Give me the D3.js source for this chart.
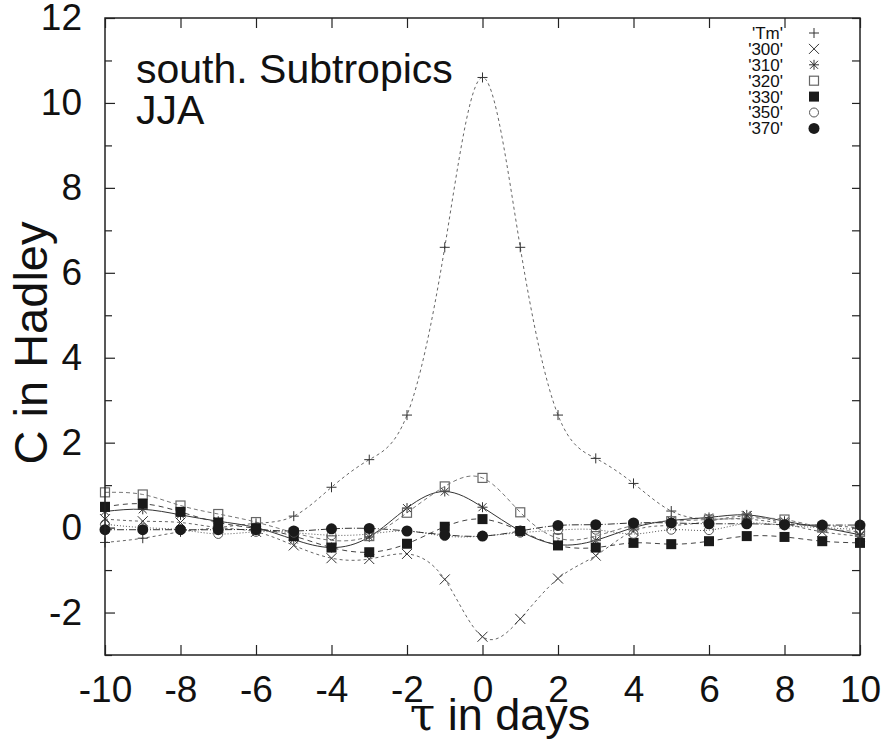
<!DOCTYPE html>
<html lang="en">
<head>
<meta charset="UTF-8">
<title>south. Subtropics JJA</title>
<script src="https://d3js.org/d3.v7.min.js"></script>
<style>
    body { margin: 0; background: #fff; }
    text { font-family: "Liberation Sans", Arial, sans-serif; fill: #111; }
</style>
</head>
<body>
<svg id="chart" width="881" height="740"></svg>
<script>
// lag in days
const tau = [-10, -9, -8, -7, -6, -5, -4, -3, -2, -1, 0, 1, 2, 3, 4, 5, 6, 7, 8, 9, 10];

// correlation values per level
const tm   = [-0.35, -0.25, -0.1, 0.0, 0.1, 0.27, 0.95, 1.6, 2.65, 6.6, 10.6, 6.6, 2.65, 1.63, 1.04, 0.39, 0.2, 0.2, 0.1, 0.05, 0.0];
const l300 = [0.2, 0.15, 0.12, 0.0, -0.1, -0.42, -0.72, -0.74, -0.62, -1.22, -2.57, -2.15, -1.2, -0.66, -0.08, 0.05, 0.15, 0.27, 0.1, -0.1, -0.2];
const l310 = [0.38, 0.43, 0.3, 0.15, 0.0, -0.28, -0.47, -0.22, 0.46, 0.85, 0.48, -0.08, -0.4, -0.3, 0.0, 0.17, 0.24, 0.3, 0.15, 0.0, -0.17];
const l320 = [0.83, 0.78, 0.52, 0.32, 0.13, -0.12, -0.3, -0.2, 0.35, 0.97, 1.17, 0.36, -0.25, -0.2, 0.05, 0.15, 0.19, 0.22, 0.19, 0.0, -0.1];
const l330 = [0.49, 0.56, 0.37, 0.12, -0.02, -0.2, -0.47, -0.58, -0.38, 0.02, 0.2, -0.08, -0.42, -0.47, -0.36, -0.39, -0.32, -0.2, -0.22, -0.32, -0.36];
const l350 = [0.08, 0.0, -0.05, -0.15, -0.1, -0.12, -0.18, -0.15, -0.08, -0.2, -0.2, -0.12, -0.06, -0.05, -0.15, -0.05, -0.06, 0.1, 0.05, 0.0, -0.05];
const l370 = [-0.05, -0.05, -0.05, -0.05, -0.05, -0.08, -0.03, -0.02, -0.08, -0.17, -0.2, -0.08, 0.05, 0.07, 0.11, 0.11, 0.09, 0.09, 0.07, 0.06, 0.06];

const seriesNames = ["'Tm'", "'300'", "'310'", "'320'", "'330'", "'350'", "'370'"];
const seriesValues = [tm, l300, l310, l320, l330, l350, l370];

const xTicks = d3.range(-10, 11, 2);
const yTicks = d3.range(-2, 13, 2);

const svg = d3.select("#chart");
const margin = { top: 18, right: 21, bottom: 85, left: 105 };
const width = 881, height = 740;

const x = d3.scaleLinear().domain([-10, 10]).range([margin.left, width - margin.right]);
const y = d3.scaleLinear().domain([-3, 12]).range([height - margin.bottom, margin.top]);

// plain hyphen for negatives, like the original
const fmt = d => String(d);

// line + marker styles
const styles = [
    { dash: "3,3",       stroke: "#666", marker: "plus" },
    { dash: "3,3",       stroke: "#666", marker: "cross" },
    { dash: null,        stroke: "#333", marker: "star" },
    { dash: "4,3",       stroke: "#777", marker: "square" },
    { dash: "5,4",       stroke: "#444", marker: "fsquare" },
    { dash: "1,2",       stroke: "#555", marker: "circle" },
    { dash: "7,2,1,2",   stroke: "#333", marker: "fcircle" }
];

function drawMarker(g, type, cx, cy) {
    const s = 5;
    if (type === "plus") {
        g.append("path").attr("d", `M${cx - s},${cy}H${cx + s}M${cx},${cy - s}V${cy + s}`)
            .attr("stroke", "#333").attr("stroke-width", 1).attr("fill", "none");
    } else if (type === "cross") {
        g.append("path").attr("d", `M${cx - s},${cy - s}L${cx + s},${cy + s}M${cx - s},${cy + s}L${cx + s},${cy - s}`)
            .attr("stroke", "#333").attr("stroke-width", 1).attr("fill", "none");
    } else if (type === "star") {
        g.append("path").attr("d", `M${cx - s},${cy}H${cx + s}M${cx},${cy - s}V${cy + s}M${cx - 4},${cy - 4}L${cx + 4},${cy + 4}M${cx - 4},${cy + 4}L${cx + 4},${cy - 4}`)
            .attr("stroke", "#333").attr("stroke-width", 1).attr("fill", "none");
    } else if (type === "square") {
        g.append("rect").attr("x", cx - 4.5).attr("y", cy - 4.5).attr("width", 9).attr("height", 9)
            .attr("fill", "none").attr("stroke", "#666").attr("stroke-width", 1.2);
    } else if (type === "fsquare") {
        g.append("rect").attr("x", cx - 5).attr("y", cy - 5).attr("width", 10).attr("height", 10)
            .attr("fill", "#1a1a1a");
    } else if (type === "circle") {
        g.append("circle").attr("cx", cx).attr("cy", cy).attr("r", 4.5)
            .attr("fill", "none").attr("stroke", "#555").attr("stroke-width", 1);
    } else if (type === "fcircle") {
        g.append("circle").attr("cx", cx).attr("cy", cy).attr("r", 5.5).attr("fill", "#1a1a1a");
    }
}

// smoothed curves (cubic splines)
const line = d3.line().x(d => x(d[0])).y(d => y(d[1])).curve(d3.curveNatural);
const plot = svg.append("g");
seriesValues.forEach((vals, i) => {
    const pts = tau.map((t, j) => [t, vals[j]]);
    plot.append("path").datum(pts)
        .attr("d", line)
        .attr("fill", "none")
        .attr("stroke", styles[i].stroke)
        .attr("stroke-width", 1)
        .attr("stroke-dasharray", styles[i].dash);
});
seriesValues.forEach((vals, i) => {
    const g = plot.append("g");
    tau.forEach((t, j) => drawMarker(g, styles[i].marker, x(t), y(vals[j])));
});

// frame
svg.append("rect")
    .attr("x", x(-10)).attr("y", y(12))
    .attr("width", x(10) - x(-10)).attr("height", y(-3) - y(12))
    .attr("fill", "none").attr("stroke", "#222").attr("stroke-width", 1.5);

// axes with inward ticks, mirrored on the opposite sides
const axisStyle = g => {
    g.select(".domain").remove();
    g.selectAll(".tick line").attr("stroke", "#222").attr("stroke-width", 1.2);
    g.selectAll(".tick text").style("font-size", "37px").attr("fill", "#111");
};
svg.append("g")
    .attr("transform", `translate(0,${y(-3)})`)
    .call(d3.axisBottom(x).tickValues(xTicks).tickSizeInner(-10).tickPadding(21).tickFormat(fmt))
    .call(axisStyle);
svg.append("g")
    .attr("transform", `translate(0,${y(12)})`)
    .call(d3.axisTop(x).tickValues(xTicks).tickSizeInner(-10).tickFormat(""))
    .call(axisStyle);
svg.append("g")
    .attr("transform", `translate(${x(-10)},0)`)
    .call(d3.axisLeft(y).tickValues(yTicks).tickSizeInner(-10).tickPadding(23).tickFormat(fmt))
    .call(axisStyle);
svg.append("g")
    .attr("transform", `translate(${x(-10)},0)`)
    .call(d3.axisLeft(y).tickValues(d3.range(-3, 12, 2)).tickSizeInner(-7).tickFormat(""))
    .call(axisStyle);
svg.append("g")
    .attr("transform", `translate(${x(10)},0)`)
    .call(d3.axisRight(y).tickValues(d3.range(-3, 13, 1)).tickSizeInner(-8).tickFormat(""))
    .call(axisStyle);

// axis titles
svg.append("text")
    .attr("x", 500).attr("y", 730)
    .attr("text-anchor", "middle")
    .style("font-size", "45px")
    .html('<tspan font-family="DejaVu Serif" font-size="46px">τ</tspan> in days');
svg.append("text")
    .attr("transform", `translate(47,343) rotate(-90)`)
    .attr("text-anchor", "middle")
    .style("font-size", "47px")
    .text("C in Hadley");

// panel label
svg.append("text").attr("x", 136).attr("y", 83).style("font-size", "41px").text("south. Subtropics");
svg.append("text").attr("x", 136).attr("y", 124).style("font-size", "41px").text("JJA");

// legend
const legend = svg.append("g");
seriesNames.forEach((name, i) => {
    const ly = 33 + i * 15.9;
    legend.append("text").attr("x", 783).attr("y", ly).attr("dy", "0.35em")
        .attr("text-anchor", "end").style("font-size", "17px").text(name);
    drawMarker(legend, styles[i].marker, 814, ly);
});
</script>
</body>
</html>
